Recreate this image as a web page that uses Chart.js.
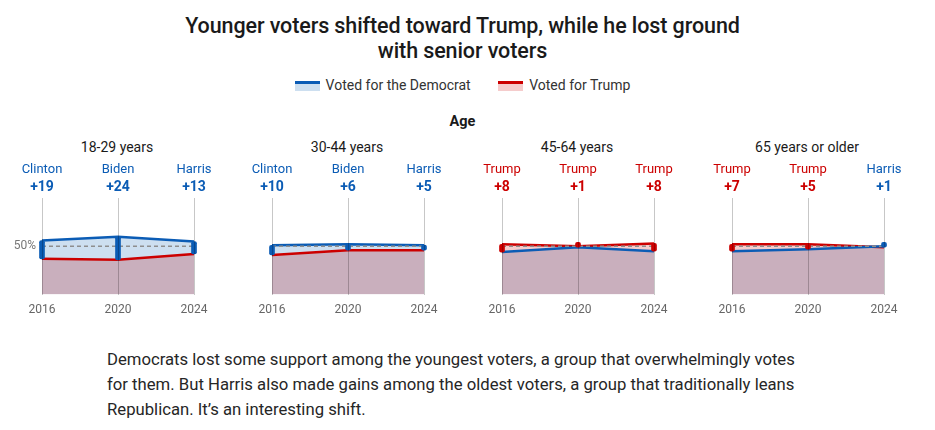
<!DOCTYPE html>
<html>
<head>
<meta charset="utf-8">
<script src="https://cdn.jsdelivr.net/npm/chart.js@4.4.1/dist/chart.umd.min.js"></script>
<style>
  body { margin: 0; background: #fff; font-family: Roboto, "Liberation Sans", sans-serif; color: #262626; }
  #page { position: relative; width: 935px; height: 430px; }
  h1 { position: absolute; top: 13px; left: 0; width: 925px; margin: 0; text-align: center;
       font-size: 21.5px; font-weight: 500; line-height: 25px; color: #1a1a1a; letter-spacing: -0.1px; }
  .legend { position: absolute; top: 77px; left: 0; width: 925px; text-align: center; font-size: 14px; color: #333; }
  .legend span.item { display: inline-block; margin: 0 12px; }
  .sw { display: inline-block; width: 25px; height: 10px; vertical-align: -1px; margin-right: 6px; }
  .sw.dem { background: #cddff0; border-top: 3px solid #0b5cb5; height: 7px; }
  .sw.rep { background: #f5cccc; border-top: 3px solid #cc0000; height: 7px; }
  .age { position: absolute; top: 113px; left: 0; width: 925px; text-align: center; font-size: 14.5px; font-weight: 700; color: #1a1a1a; }
  .sub { position: absolute; top: 139px; width: 150px; text-align: center; font-size: 14px; color: #1a1a1a; }
  canvas.small { position: absolute; top: 160px; }
  p { position: absolute; top: 347px; left: 107px; width: 700px; margin: 0; font-size: 16.7px; line-height: 25px; color: #262626; }
</style>
</head>
<body>
<div id="page">
  <h1>Younger voters shifted toward Trump, while he lost ground<br>with senior voters</h1>
  <div class="legend">
    <span class="item"><span class="sw dem"></span>Voted for the Democrat</span>
    <span class="item"><span class="sw rep"></span>Voted for Trump</span>
  </div>
  <div class="age">Age</div>
  <div id="charts"></div>
  <p>Democrats lost some support among the youngest voters, a group that overwhelmingly votes for them. But Harris also made gains among the oldest voters, a group that traditionally leans Republican. It’s an interesting shift.</p>
</div>

<script>
// Data
const years = ['2016', '2020', '2024'];
const groups = ['18-29 years', '30-44 years', '45-64 years', '65 years or older'];

const demShare = [
    [56, 60, 55],
    [51, 52, 51],
    [44, 49, 45],
    [45, 47, 50]
];
const repShare = [
    [37, 36, 42],
    [41, 46, 46],
    [52, 50, 53],
    [52, 52, 49]
];
const winners = [
    ['Clinton', 'Biden', 'Harris'],
    ['Clinton', 'Biden', 'Harris'],
    ['Trump', 'Trump', 'Trump'],
    ['Trump', 'Trump', 'Harris']
];
const margins = [
    ['+19', '+24', '+13'],
    ['+10', '+6', '+5'],
    ['+8', '+1', '+8'],
    ['+7', '+5', '+1']
];
const referenceLine = [50, 50, 50];

const BLUE = '#0b5cb5';
const RED = '#cc0000';
const BLUE_BAND = '#cddff0';
const RED_BAND = '#f5cccc';
const MAUVE = '#c9afbd';

const FONT = 'Roboto, "Liberation Sans", sans-serif';

// Candidate name + margin above each year, and the 50% label on the first chart
const winnerLabels = {
    id: 'winnerLabels',
    afterDraw(chart, args, opts) {
        const ctx = chart.ctx;
        const x = chart.scales.x;
        const y = chart.scales.y;
        ctx.save();
        ctx.textAlign = 'center';
        ctx.textBaseline = 'middle';
        opts.names.forEach((name, i) => {
            const px = x.getPixelForValue(i);
            ctx.fillStyle = name === 'Trump' ? RED : BLUE;
            ctx.font = '13px ' + FONT;
            ctx.fillText(name, px, 10);
            ctx.font = 'bold 14px ' + FONT;
            ctx.fillText(opts.margins[i], px, 27);
        });
        if (opts.showFifty) {
            ctx.textAlign = 'right';
            ctx.fillStyle = '#777';
            ctx.font = '12px ' + FONT;
            ctx.fillText('50%', chart.chartArea.left - 6, y.getPixelForValue(50));
        }
        ctx.restore();
    }
};

const holder = document.getElementById('charts');

groups.forEach((group, g) => {
    const left = 2 + 230 * g;

    const sub = document.createElement('div');
    sub.className = 'sub';
    sub.style.left = (left + 40) + 'px';
    sub.textContent = group;
    holder.appendChild(sub);

    const canvas = document.createElement('canvas');
    canvas.className = 'small';
    canvas.style.left = left + 'px';
    canvas.width = 230;
    canvas.height = 170;
    canvas.style.width = '230px';
    canvas.style.height = '170px';
    holder.appendChild(canvas);

    const dem = demShare[g];
    const rep = repShare[g];
    const gaps = years.map((y, i) => [rep[i], dem[i]]);
    const gapColors = years.map((y, i) => dem[i] > rep[i] ? BLUE : RED);

    new Chart(canvas.getContext('2d'), {
        type: 'line',
        data: {
            labels: years,
            datasets: [
                {
                    label: 'Voted for the Democrat',
                    data: dem,
                    borderColor: BLUE,
                    borderWidth: 2.5,
                    pointRadius: 0,
                    tension: 0,
                    fill: { target: 1, above: BLUE_BAND, below: RED_BAND },
                    order: 2
                },
                {
                    label: 'Voted for Trump',
                    data: rep,
                    borderColor: RED,
                    borderWidth: 2.5,
                    pointRadius: 0,
                    tension: 0,
                    backgroundColor: MAUVE,
                    fill: 'origin',
                    order: 3
                },
                {
                    label: '50%',
                    data: referenceLine,
                    borderColor: '#8e8e8e',
                    borderWidth: 1.5,
                    borderDash: [4, 3],
                    pointRadius: 0,
                    fill: false,
                    order: 1
                },
                {
                    type: 'bar',
                    label: 'gap',
                    data: gaps,
                    backgroundColor: gapColors,
                    barThickness: 5,
                    minBarLength: 5,
                    borderRadius: 2,
                    borderSkipped: false,
                    clip: 10,
                    order: 0
                }
            ]
        },
        options: {
            responsive: false,
            animation: false,
            events: [],
            layout: { padding: { left: 40, right: 38, top: 38, bottom: 5 } },
            scales: {
                x: {
                    type: 'category',
                    offset: false,
                    border: { display: false },
                    grid: { offset: false, color: 'rgba(0,0,0,0.22)', lineWidth: 1, drawTicks: false, z: 1 },
                    ticks: { color: '#666', font: { family: FONT, size: 12 }, padding: 8, maxRotation: 0 }
                },
                y: {
                    min: 0,
                    max: 100,
                    display: false
                }
            },
            plugins: {
                legend: { display: false },
                tooltip: { enabled: false },
                filler: { drawTime: 'beforeDatasetsDraw' },
                winnerLabels: { names: winners[g], margins: margins[g], showFifty: g === 0 }
            }
        },
        plugins: [winnerLabels]
    });
});
</script>
</body>
</html>
